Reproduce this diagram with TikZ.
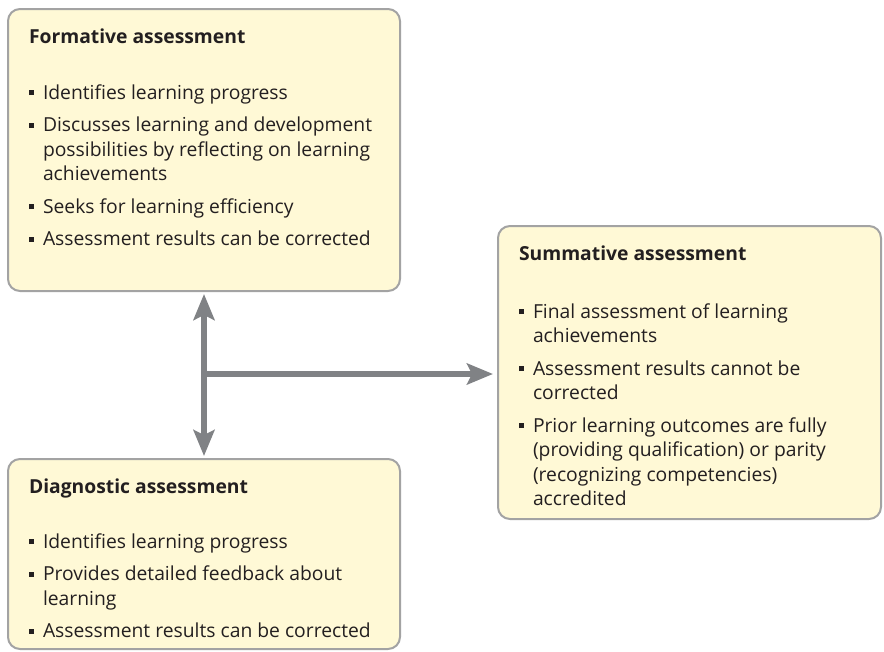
\documentclass[tikz,border=0pt]{standalone}
\usepackage{fontspec}
\setmainfont{Open Sans}
\usepackage{enumitem}
\usetikzlibrary{arrows.meta,positioning,calc}
\definecolor{boxfill}{RGB}{255,249,214}
\definecolor{boxline}{RGB}{163,163,163}
\definecolor{arrgray}{RGB}{128,130,133}
\definecolor{txtcol}{RGB}{35,31,32}
\setlist[itemize]{label=\raisebox{4pt}{\rule{5pt}{5pt}},align=left,labelindent=0pt,labelwidth=5pt,labelsep=9pt,leftmargin=14pt,itemsep=8pt,parsep=0pt,topsep=0pt,partopsep=0pt}
\begin{document}
\begin{tikzpicture}[x=1pt,y=1pt,
    abox/.style={draw=boxline,line width=2pt,fill=boxfill,rounded corners=12pt,anchor=north west,
      inner xsep=21pt,inner ysep=20pt,text=txtcol,font=\fontsize{19.3}{24.5}\selectfont},
    arr/.style={draw=arrgray,line width=6pt},
    gtip/.tip={Stealth[length=26pt,width=21pt,inset=5pt]}]
  \useasboundingbox (0,0) rectangle (884,-651);
  \node[abox] (form) at (7,-8) {\begin{minipage}[t][242pt][t]{350pt}
      \textbf{Formative assessment}\par\vspace{31pt}
      \begin{itemize}
        \item Identifies learning progress
        \item Discusses learning and development\newline possibilities by reflecting on learning\newline achievements
        \item Seeks for learning efficiency
        \item Assessment results can be corrected
      \end{itemize}\end{minipage}};
  \node[abox] (diag) at (7,-458) {\begin{minipage}[t][150pt][t]{350pt}
      \textbf{Diagnostic assessment}\par\vspace{30pt}
      \begin{itemize}
        \item Identifies learning progress
        \item Provides detailed feedback about\newline learning
        \item Assessment results can be corrected
      \end{itemize}\end{minipage}};
  \node[abox] (summ) at (497,-225) {\begin{minipage}[t][253pt][t]{341pt}
      \textbf{Summative assessment}\par\vspace{33pt}
      \begin{itemize}
        \item Final assessment of learning\newline achievements
        \item Assessment results cannot be\newline corrected
        \item Prior learning outcomes are fully\newline (providing qualification) or parity\newline (recognizing competencies)\newline accredited
      \end{itemize}\end{minipage}};
  \coordinate (hub) at (203,-374);
  \draw[arr,gtip-gtip,shorten <=2pt,shorten >=2pt] (form.south) -- (diag.north);
  \draw[arr,-gtip,shorten >=4pt] (hub) -- (hub -| summ.west);
\end{tikzpicture}
\end{document}
